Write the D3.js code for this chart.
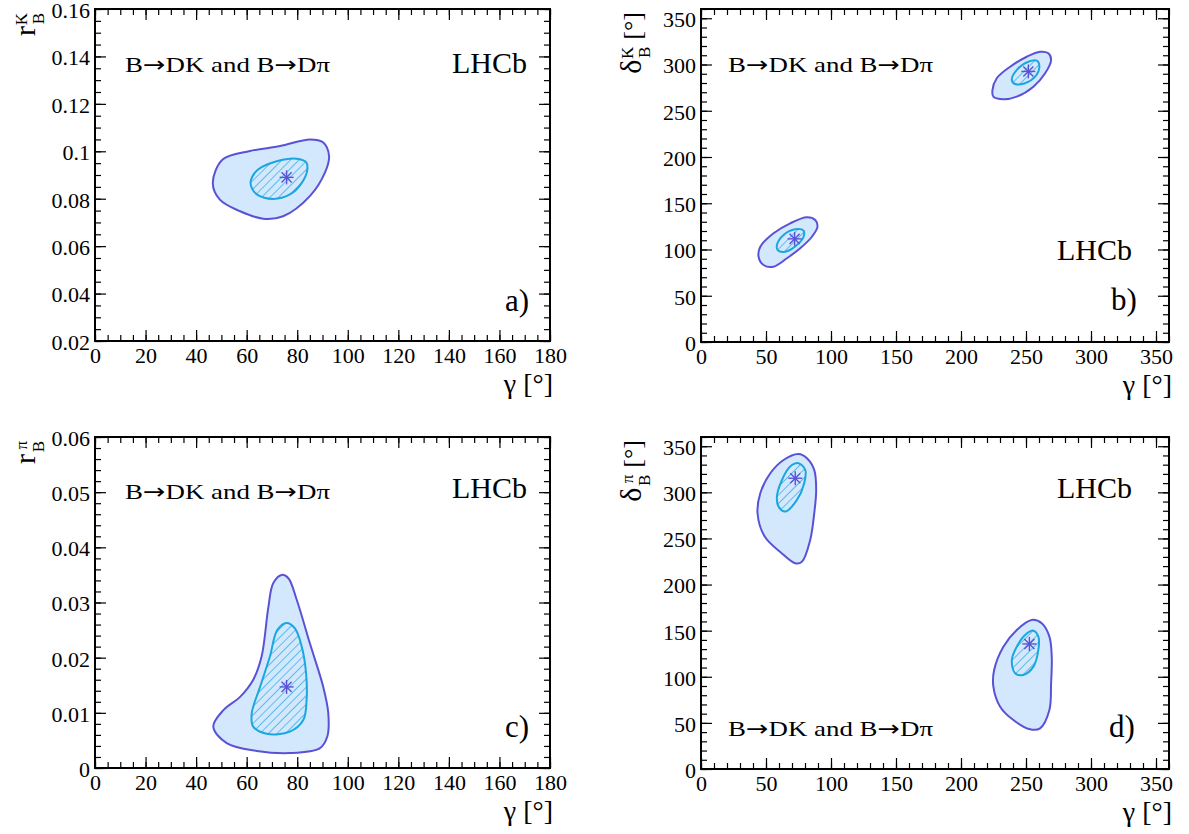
<!DOCTYPE html>
<html><head><meta charset="utf-8">
<script src="https://cdn.jsdelivr.net/npm/d3@7"></script>
<style>
body{margin:0;background:#fff}
svg text{font-family:'Liberation Serif','Times New Roman',serif;}
svg text.arrowfont, svg tspan.arrowfont{font-family:'DejaVu Sans',sans-serif;}
</style>
</head><body>
<svg id="chart" width="1189" height="834"></svg>
<script>
// ---------------- data ----------------
const gammaTicksNarrow = [0,20,40,60,80,100,120,140,160,180];
const gammaTicksWide   = [0,50,100,150,200,250,300,350];
const rBKTicks   = [0.02,0.04,0.06,0.08,0.1,0.12,0.14,0.16];
const rBKLabels  = ["0.02","0.04","0.06","0.08","0.1","0.12","0.14","0.16"];
const rBPiTicks  = [0,0.01,0.02,0.03,0.04,0.05,0.06];
const rBPiLabels = ["0","0.01","0.02","0.03","0.04","0.05","0.06"];
const deltaTicks = [0,50,100,150,200,250,300,350];

// a) gamma vs r_B^K
const aOuter = [[46.6,0.0867],[50.6,0.0966],[61.3,0.1001],[73.2,0.1022],[85.0,0.1050],[90.2,0.1038],[92.6,0.0980],[91.0,0.0911],[85.0,0.0811],[74.4,0.0726],[66.5,0.0716],[57.4,0.0747],[49.4,0.0796]];
const aInner = [[61.6,0.0874],[64.5,0.0923],[71.9,0.0958],[79.8,0.0969],[83.5,0.0954],[84.0,0.0923],[81.8,0.0867],[77.1,0.0818],[70.5,0.0799],[64.0,0.0818],[62.0,0.0846]];
const aBest  = [[75.8,0.0890]];

// b) gamma vs delta_B^K
const bOuter1 = [[44.3,92.2],[45.6,103.0],[55.8,117.5],[68.6,128.3],[81.5,134.8],[87.9,131.9],[89.6,124.6],[85.3,113.8],[76.3,101.3],[66.1,90.5],[55.8,81.4],[48.1,83.2]];
const bInner1 = [[58.4,104.9],[63.5,115.7],[72.5,121.8],[78.9,120.3],[78.9,113.8],[73.8,104.9],[64.8,97.6],[58.9,99.5]];
const bOuter2 = [[224.2,272.4],[227.5,285.1],[237.8,297.6],[250.6,308.4],[260.8,313.8],[267.2,312.1],[269.3,304.9],[264.7,290.5],[255.7,276.0],[242.9,265.2],[232.6,262.4],[224.9,265.2]];
const bInner2 = [[239.1,283.2],[242.9,294.1],[251.8,303.0],[258.3,304.1],[260.3,297.6],[257.0,286.8],[249.3,279.7],[241.6,278.9]];
const bBest   = [[72.0,111.5],[251.8,292.5]];

// c) gamma vs r_B^pi
const cOuter = [[73.9,0.0350],[76.5,0.0344],[79.8,0.0305],[85.0,0.0226],[90.3,0.0147],[92.3,0.0099],[91.9,0.0057],[89.0,0.0036],[77.1,0.0027],[64.0,0.0031],[52.1,0.0045],[46.8,0.0075],[50.8,0.0105],[57.4,0.0129],[62.6,0.0160],[65.9,0.0202],[68.6,0.0292],[70.5,0.0335]];
const cInner = [[75.8,0.0263],[79.1,0.0253],[81.8,0.0220],[83.5,0.0172],[83.7,0.0123],[82.4,0.0087],[77.1,0.0066],[67.9,0.0062],[62.6,0.0075],[62.0,0.0099],[65.3,0.0147],[69.2,0.0202],[72.1,0.0250]];
const cBest  = [[75.8,0.0147]];

// d) gamma vs delta_B^pi
const dOuter1 = [[75.0,341.6],[81.5,337.0],[87.1,324.3],[88.6,302.6],[87.1,277.3],[84.0,248.4],[77.6,224.8],[72.5,223.1],[62.0,234.0],[49.0,252.0],[43.5,277.3],[45.6,299.0],[53.3,320.7],[63.5,335.1]];
const dInner1 = [[75.0,331.6],[80.2,324.3],[79.4,309.9],[73.8,291.8],[64.8,279.1],[59.7,284.5],[58.4,295.3],[62.3,313.4],[68.6,327.9]];
const dOuter2 = [[254.4,161.6],[262.1,158.0],[268.0,143.5],[269.8,121.8],[269.3,92.9],[268.0,64.0],[260.8,44.1],[253.1,43.1],[240.3,53.1],[230.1,67.6],[224.9,89.3],[225.5,107.4],[232.6,132.6],[242.9,150.8]];
const dInner2 = [[255.7,150.0],[259.5,143.5],[259.5,129.1],[255.7,111.0],[248.0,102.0],[241.6,103.8],[239.1,118.2],[242.9,132.6],[249.3,145.3]];
const dBest   = [[72.5,315.3],[252.6,135.6]];

const processParts = ["B","\u2192","DK and B","\u2192","D\u03c0"];

// ---------------- drawing ----------------
const svg = d3.select("#chart");
const COL_OUT = "#5a52d6", COL_IN = "#1aa6de", COL_FILL = "#d4e8fd";

const defs = svg.append("defs");
const pat = defs.append("pattern").attr("id","hatch").attr("patternUnits","userSpaceOnUse")
  .attr("width",6).attr("height",6).attr("patternTransform","rotate(45)");
pat.append("line").attr("x1",0).attr("y1",0).attr("x2",0).attr("y2",6)
  .attr("stroke",COL_IN).attr("stroke-width",1.3);

const panels = [
  {id:"a", l:95, r:550, t:9, b:341, xd:[0,180], yd:[0.02,0.16], xMaj:gammaTicksNarrow, xMinStep:5,
   yMaj:rBKTicks, yLab:rBKLabels, yMinStep:0.005, outers:[aOuter], inners:[aInner], best:aBest,
   ytitle:{main:"r", sub:"B", sup:"K", unit:""},
   proc:[125,72], lhcb:[452,73], tag:[505,311]},
  {id:"b", l:701, r:1169, t:9, b:342, xd:[0,360], yd:[0,360], xMaj:gammaTicksWide, xMinStep:10,
   yMaj:deltaTicks, yLab:deltaTicks.map(String), yMinStep:10, outers:[bOuter1,bOuter2], inners:[bInner1,bInner2], best:bBest,
   ytitle:{main:"\u03b4", sub:"B", sup:"K", unit:"[\u00b0]"},
   proc:[728,72], lhcb:[1057,260], tag:[1111,310]},
  {id:"c", l:95, r:550, t:437, b:768, xd:[0,180], yd:[0,0.06], xMaj:gammaTicksNarrow, xMinStep:5,
   yMaj:rBPiTicks, yLab:rBPiLabels, yMinStep:0.002, outers:[cOuter], inners:[cInner], best:cBest,
   ytitle:{main:"r", sub:"B", sup:"\u03c0", unit:""},
   proc:[125,499], lhcb:[452,498], tag:[505,737]},
  {id:"d", l:701, r:1169, t:437, b:769, xd:[0,360], yd:[0,360], xMaj:gammaTicksWide, xMinStep:10,
   yMaj:deltaTicks, yLab:deltaTicks.map(String), yMinStep:10, outers:[dOuter1,dOuter2], inners:[dInner1,dInner2], best:dBest,
   ytitle:{main:"\u03b4", sub:"B", sup:"\u03c0", unit:"[\u00b0]"},
   proc:[728,736], lhcb:[1057,498], tag:[1109,737]}
];

panels.forEach(p => {
  const g = svg.append("g");
  const x = d3.scaleLinear().domain(p.xd).range([p.l,p.r]);
  const y = d3.scaleLinear().domain(p.yd).range([p.b,p.t]);
  const line = d3.line().x(d=>x(d[0])).y(d=>y(d[1])).curve(d3.curveCatmullRomClosed.alpha(0.5));

  // contours
  p.outers.forEach(o => g.append("path").attr("d",line(o)).attr("fill",COL_FILL).attr("stroke",COL_OUT).attr("stroke-width",2));
  p.inners.forEach(o => g.append("path").attr("d",line(o)).attr("fill","url(#hatch)").attr("stroke",COL_IN).attr("stroke-width",2));
  // best-fit asterisks
  p.best.forEach(b => {
    const cx = x(b[0]), cy = y(b[1]), s = 7;
    const m = g.append("g").attr("stroke",COL_OUT).attr("stroke-width",1.4);
    m.append("line").attr("x1",cx-s).attr("x2",cx+s).attr("y1",cy).attr("y2",cy);
    m.append("line").attr("x1",cx).attr("x2",cx).attr("y1",cy-s).attr("y2",cy+s);
    m.append("line").attr("x1",cx-s*0.72).attr("x2",cx+s*0.72).attr("y1",cy-s*0.72).attr("y2",cy+s*0.72);
    m.append("line").attr("x1",cx-s*0.72).attr("x2",cx+s*0.72).attr("y1",cy+s*0.72).attr("y2",cy-s*0.72);
  });

  // ticks
  const xMin = d3.range(p.xd[0], p.xd[1]+1e-9, p.xMinStep);
  const yMin = d3.range(p.yd[0], p.yd[1]+1e-9, p.yMinStep);
  const styleAxis = sel => { sel.select(".domain").remove(); sel.selectAll("line").attr("stroke","#000").attr("stroke-width",1.2); };
  const styleLabels = sel => sel.selectAll("text").attr("fill","#000").style("font-size","22px");
  [["b",p.b,d3.axisBottom],["t",p.t,d3.axisTop]].forEach(([k,pos,ax]) => {
    g.append("g").attr("transform",`translate(0,${pos})`).call(ax(x).tickValues(xMin).tickSize(-6).tickFormat("")).call(styleAxis);
    const maj = g.append("g").attr("transform",`translate(0,${pos})`).call(ax(x).tickValues(p.xMaj).tickSize(-11).tickPadding(k==="b"?6:0).tickFormat(k==="b"?d3.format("d"):"")).call(styleAxis);
    if (k==="b") maj.call(styleLabels);
  });
  [["l",p.l,d3.axisLeft],["r",p.r,d3.axisRight]].forEach(([k,pos,ax]) => {
    g.append("g").attr("transform",`translate(${pos},0)`).call(ax(y).tickValues(yMin).tickSize(-6).tickFormat("")).call(styleAxis);
    const maj = g.append("g").attr("transform",`translate(${pos},0)`).call(ax(y).tickValues(p.yMaj).tickSize(-11).tickPadding(k==="l"?5:0).tickFormat(k==="l"?((d,i)=>p.yLab[i]):"")).call(styleAxis);
    if (k==="l") maj.call(styleLabels).selectAll("text").attr("dy","0.38em");
  });
  // frame
  g.append("rect").attr("x",p.l).attr("y",p.t).attr("width",p.r-p.l).attr("height",p.b-p.t)
    .attr("fill","none").attr("stroke","#000").attr("stroke-width",2);

  // x title
  g.append("text").attr("x",p.r+3).attr("y",p.b+52).attr("text-anchor","end")
    .attr("font-size",28).text("\u03b3 [\u00b0]");
  // y title (rotated)
  const yt = p.ytitle;
  const bx = p.l - 60, topY = p.t + 3;
  const tg = g.append("g").attr("transform",`translate(${bx},${topY}) rotate(-90)`);
  let endX = -1;
  if (yt.unit) {
    const u = tg.append("text").attr("x",0).attr("y",0).attr("text-anchor","end").attr("font-size",26).text(yt.unit);
    endX = -u.node().getComputedTextLength() - 7;
  }
  tg.append("text").attr("x",endX).attr("y",9).attr("text-anchor","end").attr("font-size",17).text(yt.sub);
  tg.append("text").attr("x",endX).attr("y",-8).attr("text-anchor","end").attr("font-size",17).text(yt.sup);
  tg.append("text").attr("x",endX-13).attr("y",0).attr("text-anchor","end").attr("font-size",30).text(yt.main);

  // labels
  const pt = g.append("text").attr("x",p.proc[0]).attr("y",p.proc[1]).attr("font-size",22)
    .attr("textLength",205).attr("lengthAdjust","spacingAndGlyphs");
  processParts.forEach(s => {
    const ts = pt.append("tspan").text(s);
    if (s === "\u2192") ts.attr("class","arrowfont");
  });
  g.append("text").attr("x",p.lhcb[0]).attr("y",p.lhcb[1]).attr("font-size",30).text("LHCb");
  g.append("text").attr("x",p.tag[0]).attr("y",p.tag[1]).attr("font-size",31).text(p.id+")");
});
</script>
</body></html>
